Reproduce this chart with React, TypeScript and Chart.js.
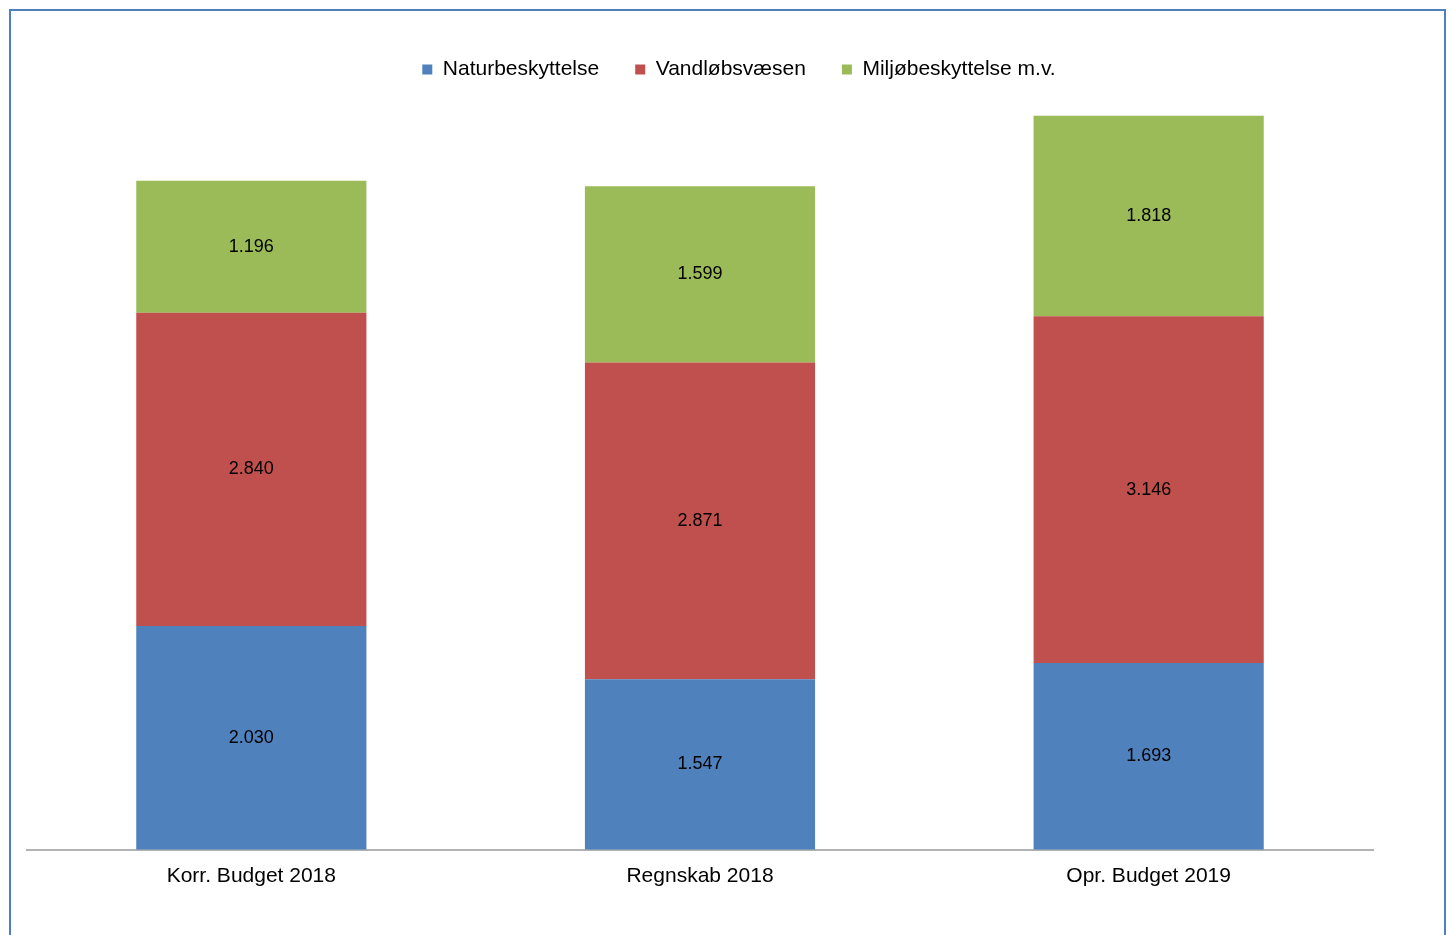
import React, { useEffect, useRef } from "react";
import { Chart, registerables } from "chart.js";

Chart.register(...registerables);

// ---- Data ----
const CATEGORIES = ["Korr. Budget 2018", "Regnskab 2018", "Opr. Budget 2019"];
const SERIES_NAMES = ["Naturbeskyttelse", "Vandløbsvæsen", "Miljøbeskyttelse m.v."];
const NATURBESKYTTELSE = [2030, 1547, 1693];
const VANDLOBSVAESEN = [2840, 2871, 3146];
const MILJOBESKYTTELSE = [1196, 1599, 1818];
const COLORS = ["#4f81bd", "#c0504d", "#9bbb59"];
const Y_MAX = 6890; // hidden value axis upper bound

const FONT = "'Liberation Sans', Arial, Helvetica, sans-serif";

function fmt(v: number): string {
  return String(v).replace(/\B(?=(\d{3})+(?!\d))/g, ".");
}

const valueLabels = {
  id: "valueLabels",
  afterDatasetsDraw(chart: any) {
    const ctx = chart.ctx;
    ctx.save();
    ctx.font = `18px ${FONT}`;
    ctx.fillStyle = "#000000";
    ctx.textAlign = "center";
    ctx.textBaseline = "middle";
    chart.data.datasets.forEach((ds: any, i: number) => {
      const meta = chart.getDatasetMeta(i);
      meta.data.forEach((el: any, j: number) => {
        const v = ds.data[j];
        const y = (el.y + el.base) / 2;
        ctx.fillText(fmt(v), el.x, y);
      });
    });
    ctx.restore();
  },
};

const legendShift = {
  id: "legendShift",
  afterLayout(chart: any) {
    const l = chart.legend;
    if (l) {
      l.left += 39;
      l.right += 39;
    }
  },
};

export default function App() {
  const canvasRef = useRef<HTMLCanvasElement | null>(null);

  useEffect(() => {
    if (!canvasRef.current) return;
    const chart = new Chart(canvasRef.current, {
      type: "bar",
      data: {
        labels: CATEGORIES,
        datasets: [
          { label: SERIES_NAMES[0], data: NATURBESKYTTELSE, backgroundColor: COLORS[0] },
          { label: SERIES_NAMES[1], data: VANDLOBSVAESEN, backgroundColor: COLORS[1] },
          { label: SERIES_NAMES[2], data: MILJOBESKYTTELSE, backgroundColor: COLORS[2] },
        ],
      },
      options: {
        responsive: false,
        animation: false,
        layout: { padding: { left: 27, right: 79, top: 23, bottom: 32 } },
        datasets: {
          bar: { categoryPercentage: 1, barPercentage: 0.513 },
        },
        scales: {
          x: {
            stacked: true,
            grid: { display: false, drawTicks: false },
            border: { display: true, color: "#b3b3b3", width: 2 },
            ticks: {
              color: "#000000",
              padding: 14,
              font: { family: FONT, size: 21 },
            },
          },
          y: {
            stacked: true,
            display: false,
            min: 0,
            max: Y_MAX,
          },
        },
        plugins: {
          tooltip: { enabled: false },
          legend: {
            display: true,
            position: "top",
            labels: {
              boxWidth: 10,
              boxHeight: 10,
              padding: 36,
              color: "#000000",
              font: { family: FONT, size: 21 },
            },
          },
        },
      },
      plugins: [valueLabels, legendShift],
    });
    return () => chart.destroy();
  }, []);

  return (
    <div
      style={{
        position: "fixed",
        left: 0,
        top: 0,
        width: 1452,
        height: 935,
        overflow: "hidden",
        background: "#ffffff",
      }}
    >
      <div
        style={{
          position: "absolute",
          left: 9,
          top: 9,
          width: 1437,
          height: 960,
          border: "2px solid #4f7fbc",
          boxSizing: "border-box",
        }}
      />
      <canvas
        ref={canvasRef}
        width={1452}
        height={935}
        style={{ position: "absolute", left: 0, top: 0 }}
      />
    </div>
  );
}
